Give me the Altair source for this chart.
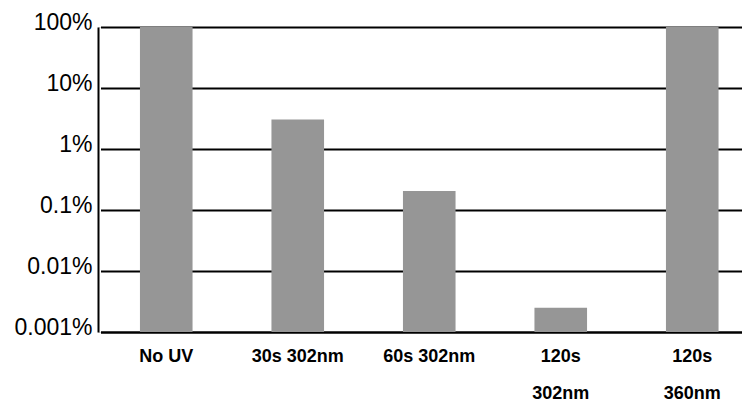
import altair as alt
import pandas as pd

categories = ["No UV", "30s 302nm", "60s 302nm", "120s 302nm", "120s 360nm"]
label_lines = ["No UV", "30s 302nm", "60s 302nm", "120s|302nm", "120s|360nm"]
survival_pct = [100, 3.05, 0.205, 0.0025, 100]
y_ticks = [0.001, 0.01, 0.1, 1, 10, 100]

df = pd.DataFrame({"cat": label_lines, "value": survival_pct, "base": [0.001] * 5})

chart = alt.Chart(df).mark_bar(color="#969696").encode(
    x=alt.X(
        "cat:N",
        sort=label_lines,
        scale=alt.Scale(paddingInner=0.6, paddingOuter=0.3, range=[2.5, 660]),
        axis=alt.Axis(
            title=None,
            labelAngle=0,
            labelExpr="split(datum.label, '|')",
            labelFont="Liberation Sans",
            labelFontWeight="bold",
            labelFontSize=18,
            labelColor="black",
            labelPadding=15,
            labelLineHeight=37,
            labelBaseline="top",
            ticks=False,
            domainColor="black",
            domainWidth=2,
            grid=False,
        ),
    ),
    y=alt.Y(
        "value:Q",
        scale=alt.Scale(type="log", domain=[0.001, 100], nice=False),
        axis=alt.Axis(
            title=None,
            values=y_ticks,
            labelExpr="datum.value + '%'",
            labelFont="Liberation Sans",
            labelFontSize=23,
            labelColor="black",
            labelPadding=6,
            labelOffset=-5,
            ticks=False,
            domainColor="black",
            domainWidth=2,
            grid=True,
            gridColor="black",
            gridWidth=2,
            gridOpacity=1,
        ),
    ),
    y2=alt.Y2("base:Q"),
).properties(
    width=644,
    height=305,
    autosize=alt.AutoSizeParams(type="none"),
    padding={"left": 90, "top": 19, "right": 0, "bottom": 68},
).configure_view(stroke=None).configure(background="white")

chart.save("out.html", embed_options={"renderer": "svg", "actions": False})
